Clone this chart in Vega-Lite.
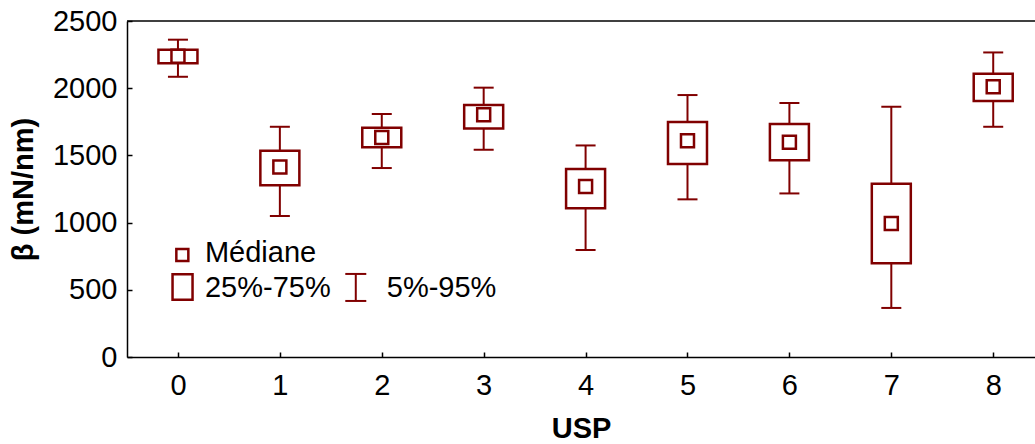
{
  "$schema": "https://vega.github.io/schema/vega-lite/v6.json",
  "width": 908,
  "height": 336,
  "autosize": {"type": "none"},
  "padding": {"left": 127, "top": 21, "right": 0, "bottom": 87},
  "background": "white",
  "config": {
    "view": {"stroke": null},
    "font": "Liberation Sans",
    "axis": {
      "grid": false,
      "domainColor": "black",
      "domainWidth": 1.5,
      "tickColor": "black",
      "tickWidth": 1.5,
      "tickSize": -5,
      "labelFont": "Liberation Sans",
      "labelFontSize": 29,
      "labelColor": "black",
      "labelFlush": false,
      "labelOverlap": false,
      "titleFont": "Liberation Sans",
      "titleFontSize": 29,
      "titleFontWeight": "bold",
      "titleColor": "black"
    },
    "axisX": {"labelPadding": 19, "titlePadding": 14},
    "axisY": {"labelPadding": 15, "titlePadding": 14}
  },
  "datasets": {
    "usp": [
      {"usp": 0, "p5": 2085, "q25": 2185, "med": 2237, "q75": 2286, "p95": 2361},
      {"usp": 1, "p5": 1049, "q25": 1277, "med": 1414, "q75": 1535, "p95": 1713},
      {"usp": 2, "p5": 1406, "q25": 1560, "med": 1634, "q75": 1706, "p95": 1808},
      {"usp": 3, "p5": 1542, "q25": 1701, "med": 1803, "q75": 1875, "p95": 2004},
      {"usp": 4, "p5": 796, "q25": 1106, "med": 1269, "q75": 1399, "p95": 1574},
      {"usp": 5, "p5": 1173, "q25": 1436, "med": 1609, "q75": 1748, "p95": 1949},
      {"usp": 6, "p5": 1217, "q25": 1463, "med": 1597, "q75": 1733, "p95": 1890},
      {"usp": 7, "p5": 365, "q25": 697, "med": 994, "q75": 1289, "p95": 1862},
      {"usp": 8, "p5": 1713, "q25": 1905, "med": 2011, "q75": 2108, "p95": 2266}
    ]
  },
  "data": {"name": "usp"},
  "layer": [
    {
      "mark": {"type": "rule", "color": "#800000", "strokeWidth": 2},
      "encoding": {
        "x": {"field": "usp", "type": "quantitative", "title": "USP",
              "scale": {"domain": [-0.5, 8.41], "nice": false, "zero": false, "padding": 0},
              "axis": {"values": [0, 1, 2, 3, 4, 5, 6, 7, 8], "format": "d"}},
        "y": {"field": "p5", "type": "quantitative", "title": "β (mN/nm)",
              "scale": {"domain": [0, 2500], "nice": false, "padding": 0},
              "axis": {"values": [0, 500, 1000, 1500, 2000, 2500], "format": "d"}},
        "y2": {"field": "p95"}
      }
    },
    {
      "data": {"values": [{}]},
      "mark": {"type": "rule", "color": "black", "strokeWidth": 1.5},
      "encoding": {"y": {"datum": 2500, "type": "quantitative", "title": "β (mN/nm)"}}
    },
    {
      "mark": {"type": "tick", "orient": "horizontal", "color": "#800000", "thickness": 2, "size": 20, "opacity": 1},
      "encoding": {
        "x": {"field": "usp", "type": "quantitative", "title": "USP"},
        "y": {"field": "p5", "type": "quantitative", "title": "β (mN/nm)"}
      }
    },
    {
      "mark": {"type": "tick", "orient": "horizontal", "color": "#800000", "thickness": 2, "size": 20, "opacity": 1},
      "encoding": {
        "x": {"field": "usp", "type": "quantitative", "title": "USP"},
        "y": {"field": "p95", "type": "quantitative", "title": "β (mN/nm)"}
      }
    },
    {
      "mark": {"type": "bar", "orient": "vertical", "width": 39, "fill": "white", "stroke": "#800000", "strokeWidth": 2.5},
      "encoding": {
        "x": {"field": "usp", "type": "quantitative", "title": "USP"},
        "y": {"field": "q25", "type": "quantitative", "title": "β (mN/nm)"},
        "y2": {"field": "q75"}
      }
    },
    {
      "mark": {"type": "point", "shape": "square", "size": 169, "filled": false, "color": "#800000", "strokeWidth": 2.5, "opacity": 1},
      "encoding": {
        "x": {"field": "usp", "type": "quantitative", "title": "USP"},
        "y": {"field": "med", "type": "quantitative", "title": "β (mN/nm)"}
      }
    },
    {
      "data": {"values": [{}]},
      "mark": {"type": "point", "shape": "square", "size": 144, "filled": false, "color": "#800000", "strokeWidth": 2.5, "opacity": 1},
      "encoding": {
        "x": {"datum": 0.043, "type": "quantitative", "title": "USP"},
        "y": {"datum": 759, "type": "quantitative", "title": "β (mN/nm)"}
      }
    },
    {
      "data": {"values": [{}]},
      "mark": {"type": "bar", "orient": "vertical", "width": 20, "fill": "white", "stroke": "#800000", "strokeWidth": 2.5},
      "encoding": {
        "x": {"datum": 0.045, "type": "quantitative", "title": "USP"},
        "y": {"datum": 426, "type": "quantitative", "title": "β (mN/nm)"},
        "y2": {"datum": 615}
      }
    },
    {
      "data": {"values": [{}]},
      "mark": {"type": "rule", "color": "#800000", "strokeWidth": 2},
      "encoding": {
        "x": {"datum": 1.745, "type": "quantitative", "title": "USP"},
        "y": {"datum": 417, "type": "quantitative", "title": "β (mN/nm)"},
        "y2": {"datum": 618}
      }
    },
    {
      "data": {"values": [{}]},
      "mark": {"type": "tick", "orient": "horizontal", "color": "#800000", "thickness": 2, "size": 21, "opacity": 1},
      "encoding": {
        "x": {"datum": 1.745, "type": "quantitative", "title": "USP"},
        "y": {"datum": 417, "type": "quantitative", "title": "β (mN/nm)"}
      }
    },
    {
      "data": {"values": [{}]},
      "mark": {"type": "tick", "orient": "horizontal", "color": "#800000", "thickness": 2, "size": 21, "opacity": 1},
      "encoding": {
        "x": {"datum": 1.745, "type": "quantitative", "title": "USP"},
        "y": {"datum": 618, "type": "quantitative", "title": "β (mN/nm)"}
      }
    },
    {
      "data": {"values": [{}]},
      "mark": {"type": "text", "align": "left", "baseline": "alphabetic", "font": "Liberation Sans", "fontSize": 29, "color": "black"},
      "encoding": {
        "x": {"datum": 0.265, "type": "quantitative", "title": "USP"},
        "y": {"datum": 705, "type": "quantitative", "title": "β (mN/nm)"},
        "text": {"value": "Médiane"}
      }
    },
    {
      "data": {"values": [{}]},
      "mark": {"type": "text", "align": "left", "baseline": "alphabetic", "font": "Liberation Sans", "fontSize": 29, "color": "black"},
      "encoding": {
        "x": {"datum": 0.265, "type": "quantitative", "title": "USP"},
        "y": {"datum": 449, "type": "quantitative", "title": "β (mN/nm)"},
        "text": {"value": "25%-75%"}
      }
    },
    {
      "data": {"values": [{}]},
      "mark": {"type": "text", "align": "left", "baseline": "alphabetic", "font": "Liberation Sans", "fontSize": 29, "color": "black"},
      "encoding": {
        "x": {"datum": 2.049, "type": "quantitative", "title": "USP"},
        "y": {"datum": 449, "type": "quantitative", "title": "β (mN/nm)"},
        "text": {"value": "5%-95%"}
      }
    }
  ]
}
